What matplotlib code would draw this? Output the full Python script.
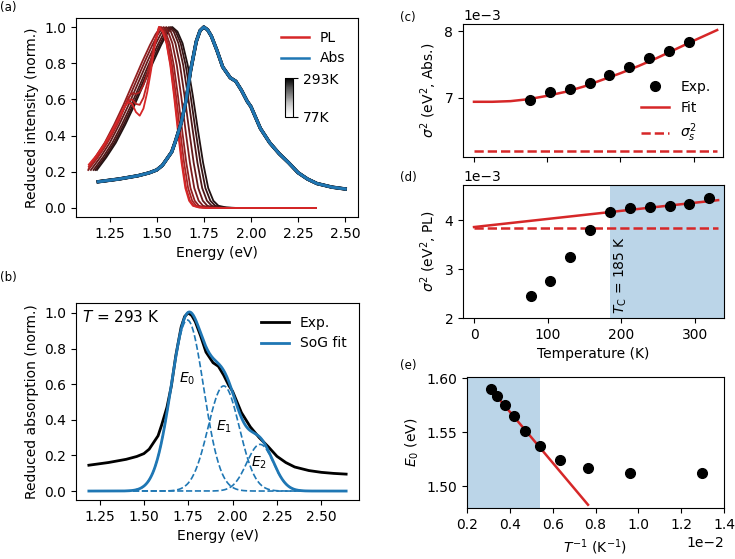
import numpy as np
import matplotlib.pyplot as plt
from matplotlib.colors import Normalize, to_rgb
from matplotlib.cm import ScalarMappable
from matplotlib.lines import Line2D

# ---- data ----
temps = [77, 104, 131, 158, 185, 212, 239, 266, 293, 320]          # K
e0_peak = [1.512, 1.512, 1.517, 1.524, 1.537, 1.551, 1.565, 1.575, 1.583, 1.590]  # eV
sig2_pl = [2.44, 2.75, 3.25, 3.79, 4.17, 4.24, 4.26, 4.30, 4.33, 4.46]  # 1e-3 eV^2
sig2_abs = [6.97, 7.08, 7.13, 7.23, 7.34, 7.46, 7.60, 7.71, 7.84]       # 1e-3 eV^2 (77-293 K)

# absorption spectrum (293 K)
abs_energy = [1.19, 1.30, 1.40, 1.46, 1.50, 1.53, 1.55, 1.58, 1.60, 1.63, 1.655, 1.68,
              1.71, 1.73, 1.75, 1.77, 1.79, 1.82, 1.85, 1.89, 1.92, 1.95, 1.98, 2.00,
              2.05, 2.10, 2.15, 2.20, 2.25, 2.30, 2.35, 2.43, 2.50, 2.57, 2.64]
abs_int = [0.145, 0.16, 0.178, 0.194, 0.21, 0.235, 0.265, 0.31, 0.37, 0.47, 0.59, 0.76,
           0.92, 0.98, 1.0, 0.985, 0.95, 0.87, 0.78, 0.72, 0.70, 0.65, 0.59, 0.56,
           0.44, 0.36, 0.30, 0.25, 0.195, 0.16, 0.135, 0.115, 0.105, 0.099, 0.095]

# PL spectra: shared low-energy rise and high-energy fall (relative to the peak)
rise_off = [-0.45, -0.40, -0.35, -0.30, -0.25, -0.20, -0.15, -0.10, -0.06, -0.03, -0.01, 0.0]
rise_val = [0.15, 0.21, 0.28, 0.36, 0.46, 0.57, 0.69, 0.81, 0.90, 0.96, 0.99, 1.0]
fall_off = [0.02, 0.04, 0.06, 0.08, 0.10, 0.12, 0.14, 0.16, 0.18, 0.21, 0.25]
fall_val = [0.975, 0.91, 0.79, 0.62, 0.43, 0.25, 0.11, 0.04, 0.012, 0.003, 0.0]
fall_scale = [1.00, 1.03, 1.07, 1.11, 1.16, 1.21, 1.26, 1.31, 1.36]
# the three coldest spectra have a low-energy shoulder
cold_energy = [1.14, 1.18, 1.22, 1.26, 1.30, 1.33, 1.35, 1.37, 1.39, 1.41, 1.43, 1.45, 1.47, 1.49]
cold_int = [
    [0.24, 0.29, 0.35, 0.42, 0.50, 0.56, 0.585, 0.575, 0.53, 0.51, 0.55, 0.64, 0.76, 0.90],
    [0.23, 0.28, 0.34, 0.41, 0.49, 0.56, 0.595, 0.60, 0.575, 0.57, 0.61, 0.69, 0.79, 0.91],
    [0.22, 0.27, 0.33, 0.40, 0.48, 0.56, 0.61, 0.635, 0.63, 0.64, 0.68, 0.74, 0.82, 0.92],
]
pl_end = 2.345

# sum-of-Gaussians fit (293 K)
g_center = [1.745, 1.95, 2.155]
g_amp = [0.96, 0.59, 0.262]
g_sigma = [0.092, 0.088, 0.075]
g_labels = [r'$E_0$', r'$E_1$', r'$E_2$']
g_label_pos = [(1.745, 0.63), (1.95, 0.36), (2.15, 0.16)]

# fit lines
abs_fit_T = [0, 25, 50, 75, 100, 125, 150, 175, 200, 225, 250, 275, 300, 332]
abs_fit = [6.94, 6.94, 6.95, 6.98, 7.03, 7.09, 7.17, 7.27, 7.37, 7.48, 7.60, 7.73, 7.86, 8.02]
sig2_s_abs = 6.20
pl_fit_T = [0, 332]
pl_fit = [3.86, 4.41]
sig2_s_pl = 3.85
tc = 185
e0_fit_x = [0.0031, 0.00765]
e0_fit_y = [1.590, 1.483]

red = to_rgb('tab:red')
blue = to_rgb('tab:blue')
dark_red = (0.13, 0.07, 0.07)
dark_blue = (0.12, 0.12, 0.14)


def blend(c1, c2, f):
    return tuple((1 - f) * a + f * b for a, b in zip(c1, c2))


W, H = 735, 559


def box(l, t, r, b):
    return [l / W, 1 - b / H, (r - l) / W, (b - t) / H]


fig = plt.figure(figsize=(W / 100, H / 100), dpi=100)
ax_a = fig.add_axes(box(76, 18, 358, 217))
ax_b = fig.add_axes(box(76, 303, 359, 500))
ax_c = fig.add_axes(box(463, 24, 723, 157))
ax_d = fig.add_axes(box(463, 185, 724, 318))
ax_e = fig.add_axes(box(467, 377, 724, 508))

# ---- (a) ----
pl_temps = temps[:9]
for i in reversed(range(len(pl_temps))):
    f = (pl_temps[i] - 77) / (293 - 77)
    p = e0_peak[i]
    if i < 3:
        e_low = list(cold_energy) + [p]
        v_low = list(cold_int[i]) + [1.0]
    else:
        e_low = [p + o for o in rise_off]
        v_low = list(rise_val)
        keep = [k for k, e in enumerate(e_low) if e >= 1.135]
        e_low = [e_low[k] for k in keep]
        v_low = [v_low[k] for k in keep]
    e_high = [p + fall_scale[i] * o for o in fall_off] + [pl_end]
    v_high = list(fall_val) + [0.0]
    ax_a.plot(e_low + e_high, v_low + v_high, color=blend(red, dark_red, f), lw=1.3)

abs_e_a = [e for e in abs_energy if e <= 2.50]
abs_v_a = abs_int[:len(abs_e_a)]
for i in reversed(range(len(pl_temps))):
    f = (pl_temps[i] - 77) / (293 - 77)
    ax_a.plot(abs_e_a, abs_v_a, color=blend(blue, dark_blue, f), lw=1.5 + 1.0 * f)

ax_a.set_xlim(1.072, 2.568)
ax_a.set_ylim(-0.05, 1.05)
ax_a.set_xticks([1.25, 1.5, 1.75, 2.0, 2.25, 2.5])
ax_a.set_yticks([0, 0.2, 0.4, 0.6, 0.8, 1.0])
ax_a.set_xlabel('Energy (eV)')
ax_a.set_ylabel('Reduced intensity (norm.)')
ax_a.legend(handles=[Line2D([], [], color=red, lw=1.8, label='PL'),
                     Line2D([], [], color=blue, lw=1.8, label='Abs')],
            loc='upper right', frameon=False)

cax = fig.add_axes(box(285, 78, 293, 117))
cb = fig.colorbar(ScalarMappable(norm=Normalize(77, 293), cmap='Greys'), cax=cax, ticks=[77, 293])
cb.ax.set_yticklabels(['77K', '293K'])

# ---- (b) ----
e_grid = np.linspace(1.19, 2.64, 400)
comps = [a * np.exp(-(e_grid - c) ** 2 / (2 * s ** 2)) for c, a, s in zip(g_center, g_amp, g_sigma)]
ax_b.plot(abs_energy, abs_int, color='black', lw=2, label='Exp.')
ax_b.plot(e_grid, sum(comps), color=blue, lw=2, label='SoG fit')
for comp in comps:
    ax_b.plot(e_grid, comp, color=blue, lw=1.2, ls='--')
for lab, (x, y) in zip(g_labels, g_label_pos):
    ax_b.text(x, y, lab, ha='center', va='center', fontsize=10)
ax_b.text(0.02, 0.97, r'$T$ = 293 K', transform=ax_b.transAxes, ha='left', va='top', fontsize=11)
ax_b.set_xticks([1.25, 1.5, 1.75, 2.0, 2.25, 2.5])
ax_b.set_yticks([0, 0.2, 0.4, 0.6, 0.8, 1.0])
ax_b.set_xlabel('Energy (eV)')
ax_b.set_ylabel('Reduced absorption (norm.)')
ax_b.legend(loc='upper right', frameon=False)

# ---- (c) ----
ax_c.plot(temps[:9], np.array(sig2_abs) * 1e-3, 'o', color='black', ms=7, label='Exp.', zorder=3)
ax_c.plot(abs_fit_T, np.array(abs_fit) * 1e-3, color=red, lw=1.8, label='Fit')
ax_c.plot([0, 332], [sig2_s_abs * 1e-3] * 2, color=red, lw=1.8, ls='--', label=r'$\sigma_s^2$')
ax_c.set_xlim(-15, 340)
ax_c.set_xticks([0, 100, 200, 300])
ax_c.tick_params(labelbottom=False)
ax_c.set_yticks([7e-3, 8e-3])
ax_c.ticklabel_format(axis='y', style='sci', scilimits=(0, 0))
ax_c.set_ylabel(r'$\sigma^2$ (eV$^2$, Abs.)')
ax_c.legend(loc='lower right', frameon=False)

# ---- (d) ----
ax_d.axvspan(tc, 345, color=blue, alpha=0.3, lw=0)
ax_d.plot(temps, np.array(sig2_pl) * 1e-3, 'o', color='black', ms=7, zorder=3)
ax_d.plot(pl_fit_T, np.array(pl_fit) * 1e-3, color=red, lw=1.8)
ax_d.plot([0, 332], [sig2_s_pl * 1e-3] * 2, color=red, lw=1.8, ls='--')
ax_d.text(tc + 4, 2.08e-3, r'$T_\mathrm{C}$ = 185 K', rotation=90, ha='left', va='bottom', fontsize=10)
ax_d.set_xlim(-15, 340)
ax_d.set_ylim(2.0e-3, 4.72e-3)
ax_d.set_xticks([0, 100, 200, 300])
ax_d.set_yticks([2e-3, 3e-3, 4e-3])
ax_d.ticklabel_format(axis='y', style='sci', scilimits=(0, 0))
ax_d.set_xlabel('Temperature (K)')
ax_d.set_ylabel(r'$\sigma^2$ (eV$^2$, PL)')

# ---- (e) ----
inv_t = 1.0 / np.array(temps)
ax_e.axvspan(0.002, 1.0 / tc, color=blue, alpha=0.3, lw=0)
ax_e.plot(inv_t, e0_peak, 'o', color='black', ms=7, zorder=3)
ax_e.plot(e0_fit_x, e0_fit_y, color=red, lw=1.8)
ax_e.set_xlim(0.002, 0.014)
ax_e.set_ylim(1.48, 1.601)
ax_e.set_yticks([1.50, 1.55, 1.60])
ax_e.ticklabel_format(axis='x', style='sci', scilimits=(0, 0))
ax_e.set_xlabel(r'$T^{-1}$ (K$^{-1}$)')
ax_e.set_ylabel(r'$E_0$ (eV)')

for lab, x, y in [('(a)', 0, 7), ('(b)', 0, 277), ('(c)', 400, 18), ('(d)', 400, 178), ('(e)', 400, 366)]:
    fig.text(x / W, 1 - y / H, lab, ha='left', va='center', fontsize=8.5)

fig.savefig('out.png', dpi=100)
